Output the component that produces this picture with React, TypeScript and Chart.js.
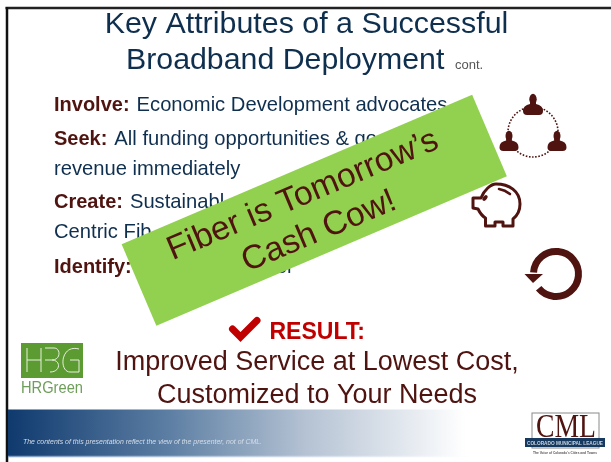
import React, { useEffect, useRef } from "react";
import { Chart, registerables } from "chart.js";

Chart.register(...registerables);

const SANS = '"Liberation Sans", Arial, sans-serif';
const SERIF = '"Liberation Serif", serif';
const NAVY = "#0f2f4f";
const MAROON = "#4f1310";
const RED = "#c00000";

// Straight thick strokes of the slide, in slide units
const frameTop = [[5.5, 8], [611, 8]];
const frameLeft = [[7, 7], [7, 462]];
const footerBand = [[8, 433], [470, 433]];
const footerEdge = [[8, 456.5], [470, 456.5]];
const hrgPanel = [[21, 360.5], [83, 360.5]];
const banner = [[139, 285], [489.5, 135.5]];

const titleLines = ["Key Attributes of a Successful", "Broadband Deployment"];
const titleNote = "cont.";
const bodyLines: [string, string, number][] = [
  ["Involve:", "Economic Development advocates", 111],
  ["Seek:", "All funding opportunities & go", 145],
  ["", "revenue immediately", 175],
  ["Create:", "Sustainabl", 208],
  ["", "Centric Fib", 238],
  ["Identify:", "", 273],
];
const bannerLines = ["Fiber is Tomorrow\u2019s", "Cash Cow!"];
const resultLabel = "RESULT:";
const resultLines = ["Improved Service at Lowest Cost,", "Customized to Your Needs"];
const disclaimer = "The contents of this presentation reflect the view of the presenter, not of CML.";

function text(ctx: any, s: string, x: number, y: number, font: string, color: string, align = "left", maxW?: number) {
  ctx.font = font;
  ctx.fillStyle = color;
  ctx.textAlign = align;
  ctx.textBaseline = "alphabetic";
  if (maxW) ctx.fillText(s, x, y, maxW);
  else ctx.fillText(s, x, y);
}

function person(ctx: any, cx: number, top: number, s: number) {
  ctx.fillStyle = MAROON;
  ctx.beginPath();
  ctx.ellipse(cx, top + 5.2 * s, 3.7 * s, 5.4 * s, 0, 0, Math.PI * 2);
  ctx.fill();
  ctx.beginPath();
  ctx.moveTo(cx - 3 * s, top + 8 * s);
  ctx.lineTo(cx - 3 * s, top + 10 * s);
  ctx.quadraticCurveTo(cx - 10 * s, top + 11.5 * s, cx - 10 * s, top + 17 * s);
  ctx.quadraticCurveTo(cx - 10 * s, top + 21 * s, cx - 6 * s, top + 21 * s);
  ctx.lineTo(cx + 6 * s, top + 21 * s);
  ctx.quadraticCurveTo(cx + 10 * s, top + 21 * s, cx + 10 * s, top + 17 * s);
  ctx.quadraticCurveTo(cx + 10 * s, top + 11.5 * s, cx + 3 * s, top + 10 * s);
  ctx.lineTo(cx + 3 * s, top + 8 * s);
  ctx.closePath();
  ctx.fill();
}

const underBanner = {
  id: "underBanner",
  beforeDatasetsDraw(chart: any) {
    const ctx = chart.ctx;
    ctx.save();
    // title
    text(ctx, titleLines[0], 306.5, 33, `30.4px ${SANS}`, NAVY, "center");
    text(ctx, titleLines[1], 126, 69, `30.3px ${SANS}`, NAVY);
    text(ctx, titleNote, 455, 69, `13px ${SANS}`, "#555555");
    // body
    for (const [lead, rest, y] of bodyLines) {
      let x = 54;
      if (lead) {
        text(ctx, lead, x, y, `bold 20px ${SANS}`, MAROON);
        x += ctx.measureText(lead).width + 7;
      }
      if (rest) text(ctx, rest, x, y, `20.2px ${SANS}`, NAVY);
    }
    text(ctx, "or", 276, 273, `20px ${SANS}`, NAVY);

    // network icon
    ctx.strokeStyle = MAROON;
    ctx.lineWidth = 1.6;
    ctx.setLineDash([1.6, 1.6]);
    ctx.beginPath();
    ctx.arc(533, 132, 25, 0, Math.PI * 2);
    ctx.stroke();
    ctx.setLineDash([]);
    person(ctx, 533, 94, 1);
    person(ctx, 509, 131, 0.95);
    person(ctx, 557, 131, 0.95);

    // piggy bank icon
    ctx.strokeStyle = MAROON;
    ctx.lineWidth = 3;
    ctx.lineJoin = "round";
    ctx.beginPath();
    ctx.moveTo(513, 226);
    ctx.lineTo(513, 219);
    ctx.bezierCurveTo(518, 215, 520, 209, 520, 204);
    ctx.bezierCurveTo(520, 191, 509, 184, 496, 184);
    ctx.bezierCurveTo(491, 184, 484, 190, 481, 198);
    ctx.lineTo(473, 198);
    ctx.lineTo(473, 208);
    ctx.lineTo(478, 209);
    ctx.bezierCurveTo(480, 213, 482, 216, 485.5, 218);
    ctx.lineTo(485.5, 226);
    ctx.lineTo(495, 226);
    ctx.lineTo(495, 222);
    ctx.lineTo(503, 222);
    ctx.lineTo(503, 226);
    ctx.closePath();
    ctx.stroke();
    ctx.fillStyle = MAROON;
    ctx.beginPath();
    ctx.ellipse(485, 198, 2, 3.2, 0.7, 0, Math.PI * 2);
    ctx.fill();
    ctx.lineWidth = 2.6;
    ctx.lineCap = "round";
    ctx.beginPath();
    ctx.moveTo(499, 189);
    ctx.quadraticCurveTo(505, 190, 510, 194);
    ctx.stroke();
    ctx.lineCap = "butt";

    // refresh icon
    ctx.lineWidth = 7;
    ctx.beginPath();
    ctx.arc(556, 274, 22.5, Math.PI * 0.78, Math.PI * 1.02, true);
    ctx.stroke();
    ctx.fillStyle = MAROON;
    ctx.beginPath();
    ctx.moveTo(524.5, 274);
    ctx.lineTo(543, 274);
    ctx.lineTo(533, 283);
    ctx.closePath();
    ctx.fill();

    // result
    ctx.strokeStyle = RED;
    ctx.lineWidth = 7;
    ctx.lineCap = "round";
    ctx.lineJoin = "miter";
    ctx.beginPath();
    ctx.moveTo(232.5, 329);
    ctx.lineTo(240.5, 337);
    ctx.lineTo(257, 320.5);
    ctx.stroke();
    ctx.lineCap = "butt";
    text(ctx, resultLabel, 269.5, 339, `bold 23px ${SANS}`, RED);
    text(ctx, resultLines[0], 317, 370, `27px ${SANS}`, MAROON, "center");
    text(ctx, resultLines[1], 317, 403, `27px ${SANS}`, MAROON, "center");
    text(ctx, "HRGreen", 21, 393, `16px ${SANS}`, "#6e9e5a", "left", 62);
    ctx.restore();
  },
  afterDatasetsDraw(chart: any) {
    const ctx = chart.ctx;
    ctx.save();
    // banner wording
    ctx.translate(306.5, 204);
    ctx.rotate((-22.8 * Math.PI) / 180);
    text(ctx, bannerLines[0], 0, 0, `33.6px ${SANS}`, MAROON, "center");
    text(ctx, bannerLines[1], 1, 39.6, `33.6px ${SANS}`, MAROON, "center");
    ctx.restore();

    ctx.save();
    // HRGreen logo mark
    ctx.strokeStyle = "#e8f0df";
    ctx.lineWidth = 1;
    ctx.beginPath();
    ctx.moveTo(27, 348); ctx.lineTo(27, 372);
    ctx.moveTo(27, 360); ctx.lineTo(41, 360);
    ctx.moveTo(41, 348); ctx.lineTo(41, 372);
    ctx.moveTo(45, 348); ctx.lineTo(54, 348);
    ctx.bezierCurveTo(61, 348, 61, 360, 52, 360);
    ctx.lineTo(45, 360);
    ctx.moveTo(52, 360); ctx.bezierCurveTo(61, 360, 61, 372, 50, 372);
    ctx.moveTo(79, 349); ctx.bezierCurveTo(60, 344, 59, 372, 70, 372);
    ctx.lineTo(79, 372);
    ctx.lineTo(79, 360);
    ctx.lineTo(70, 360);
    ctx.stroke();
    // footer wording
    text(ctx, disclaimer, 23, 444, `italic 7.6px ${SANS}`, "#d5deea", "left", 239);
    // CML logo
    ctx.strokeStyle = "#8a8a8a";
    ctx.lineWidth = 1;
    ctx.strokeRect(532, 413, 67, 35);
    text(ctx, "CML", 566, 437, `33px ${SERIF}`, MAROON, "center", 60);
    ctx.fillStyle = "#163a5f";
    ctx.fillRect(525, 438, 80, 9);
    text(ctx, "COLORADO MUNICIPAL LEAGUE", 565, 445, `bold 6px ${SANS}`, "#c9d4e0", "center", 76);
    text(ctx, "The Voice of Colorado\u2019s Cities and Towns", 565, 454, `bold 4px ${SANS}`, "#555555", "center", 64);
    ctx.restore();
  },
};

export default function App() {
  const ref = useRef<HTMLCanvasElement>(null);
  useEffect(() => {
    document.body.style.margin = "0";
    document.body.style.background = "#ffffff";
    const stroke = (data: number[][], width: number, color: any) => ({
      data: data.map(([x, y]) => ({ x, y })),
      borderColor: color,
      borderWidth: width,
      pointRadius: 0,
      tension: 0,
      fill: false,
      clip: false,
    });
    const chart = new Chart(ref.current!, {
      type: "line",
      data: {
        datasets: [
          stroke(banner, 88.5, "#92d050"),
          stroke(hrgPanel, 35, "#5c9a32"),
          stroke(footerEdge, 1.5, (c: any) => {
            const g = c.chart.ctx.createLinearGradient(8, 0, 470, 0);
            g.addColorStop(0, "#7f9cc0");
            g.addColorStop(1, "#ffffff");
            return g;
          }),
          stroke(footerBand, 47, (c: any) => {
            const g = c.chart.ctx.createLinearGradient(8, 0, 465, 0);
            g.addColorStop(0, "#0f3a6e");
            g.addColorStop(0.35, "#5c7ea3");
            g.addColorStop(0.65, "#b4c2d3");
            g.addColorStop(1, "#ffffff");
            return g;
          }),
          stroke(frameLeft, 2.5, "#111111"),
          stroke(frameTop, 2.5, "#222222"),
        ],
      } as any,
      options: {
        animation: false,
        responsive: false,
        layout: { padding: 0 },
        scales: {
          x: { type: "linear", min: 0, max: 611, display: false },
          y: { type: "linear", min: 0, max: 462, reverse: true, display: false },
        },
        plugins: { legend: { display: false }, tooltip: { enabled: false } },
      } as any,
      plugins: [underBanner],
    });
    return () => chart.destroy();
  }, []);
  return <canvas ref={ref} width={611} height={462} style={{ display: "block", filter: "blur(0.35px)" }} />;
}
